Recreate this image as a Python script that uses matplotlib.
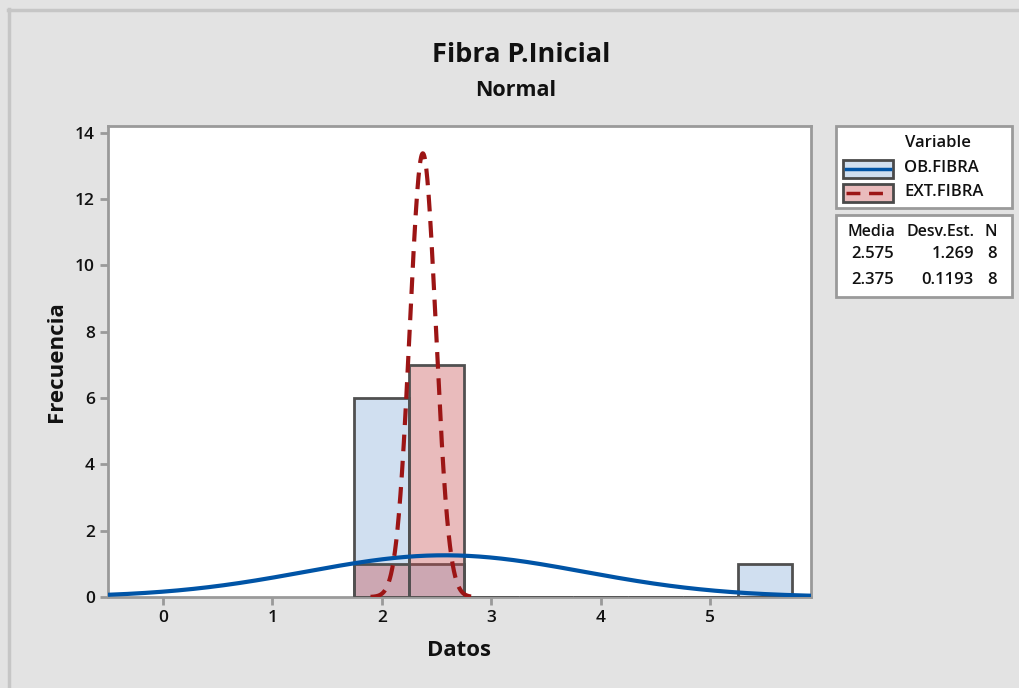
import numpy as np
import matplotlib
matplotlib.use("Agg")
import matplotlib.pyplot as plt
from matplotlib.patches import Rectangle
from matplotlib.lines import Line2D

plt.rcParams['font.family'] = ['Open Sans', 'DejaVu Sans']

# ---- data ----
bin_edges = [1.75, 2.25, 2.75, 3.25, 3.75, 4.25, 4.75, 5.25, 5.75]
ob_counts = [6, 1, 0, 0, 0, 0, 0, 1]
ext_counts = [1, 7, 0, 0, 0, 0, 0, 0]
series_names = ["OB.FIBRA", "EXT.FIBRA"]
means = [2.575, 2.375]
sds = [1.269, 0.1193]
ns = [8, 8]
mean_labels = ["2.575", "2.375"]
sd_labels = ["1.269", "0.1193"]
xticks = [0, 1, 2, 3, 4, 5]
yticks = [0, 2, 4, 6, 8, 10, 12, 14]

W, H = 1020, 688
BG = '#e3e3e3'
BLUE_FACE = '#d0dff0'
RED_FACE = (0.78, 0.30, 0.31, 0.38)
EDGE = '#505050'
BLUE_LINE = '#0054a6'
RED_LINE = '#9c1515'
TXT = '#111111'

fig = plt.figure(figsize=(W / 100, H / 100), dpi=100, facecolor=BG)

def fx(px):
    return px / W
def fy(py):
    return 1 - py / H

# outer frame (top and left edges)
fig.lines.append(Line2D([fx(8), fx(1020)], [fy(10), fy(10)], transform=fig.transFigure,
                        color='#c6c6c6', lw=2.5))
fig.lines.append(Line2D([fx(9), fx(9)], [fy(9), fy(688)], transform=fig.transFigure,
                        color='#c6c6c6', lw=2.5))

ax = fig.add_axes([108 / W, 1 - 597 / H, (811 - 108) / W, (597 - 126) / H])
ax.set_facecolor('white')

edges = np.array(bin_edges)
widths = np.diff(edges)
ax.bar(edges[:-1], ob_counts, width=widths, align='edge', color=BLUE_FACE,
       edgecolor=EDGE, linewidth=2, zorder=2)
ax.bar(edges[:-1], ext_counts, width=widths, align='edge', facecolor=RED_FACE,
       edgecolor=EDGE, linewidth=2, zorder=3)

binw = widths[0]
xs = np.linspace(-0.5, 5.92, 800)
def fit(m, s, n, x):
    return n * binw / (s * np.sqrt(2 * np.pi)) * np.exp(-0.5 * ((x - m) / s) ** 2)

ax.plot(xs, fit(means[0], sds[0], ns[0], xs), color=BLUE_LINE, lw=3, zorder=5,
        solid_capstyle='butt')
xr = np.linspace(means[1] - 4 * sds[1], means[1] + 4 * sds[1], 400)
ax.plot(xr, fit(means[1], sds[1], ns[1], xr), color=RED_LINE, lw=3, zorder=6,
        dashes=(4, 2.3))

ax.set_xlim(-0.5, 5.92)
ax.set_ylim(0, 14.2)
ax.set_xticks(xticks)
ax.set_yticks(yticks)
for sp in ax.spines.values():
    sp.set_color('#9a9a9a')
    sp.set_linewidth(2)
ax.tick_params(axis='both', colors='#9a9a9a', width=2, length=6,
               labelcolor=TXT, labelsize=12.5)
for lab in ax.get_xticklabels() + ax.get_yticklabels():
    lab.set_fontweight('semibold')

ax.set_xlabel('Datos', fontsize=16, fontweight='bold', labelpad=10, color=TXT)
ax.set_ylabel('Frecuencia', fontsize=16, fontweight='bold', labelpad=6, color=TXT)

fig.text(521 / W, 1 - 55 / H, 'Fibra P.Inicial', ha='center', va='center',
         fontsize=19.5, fontweight='bold', color=TXT)
fig.text(516 / W, 1 - 90 / H, 'Normal', ha='center', va='center',
         fontsize=15.5, fontweight='bold', color=TXT)

# legend box 1
fig.patches.append(Rectangle((fx(836), fy(208)), (1012 - 836) / W, (208 - 126) / H,
                             transform=fig.transFigure, facecolor='white',
                             edgecolor='#9a9a9a', lw=2))
fig.text(fx(938), fy(143), 'Variable', ha='center', va='center', fontsize=12,
         fontweight='semibold', color=TXT)
faces = [BLUE_FACE, RED_FACE]
lines = [(BLUE_LINE, '-'), (RED_LINE, (0, (4, 2.5)))]
for i, (py0, py1) in enumerate([(160, 178), (184, 202)]):
    fig.patches.append(Rectangle((fx(843), fy(py1)), (893 - 843) / W, (py1 - py0) / H,
                                 transform=fig.transFigure, facecolor=faces[i],
                                 edgecolor='#4a4a4a', lw=2))
    c, ls = lines[i]
    fig.lines.append(Line2D([fx(846), fx(890)], [fy((py0 + py1) / 2)] * 2,
                            transform=fig.transFigure, color=c, lw=2.5, linestyle=ls))
    fig.text(fx(904), fy((py0 + py1) / 2 - 1), series_names[i], ha='left', va='center',
             fontsize=12, fontweight='semibold', color=TXT)

# stats box
fig.patches.append(Rectangle((fx(836), fy(297)), (1012 - 836) / W, (297 - 215) / H,
                             transform=fig.transFigure, facecolor='white',
                             edgecolor='#9a9a9a', lw=2))
fig.text(fx(871), fy(232), 'Media', ha='center', va='center', fontsize=11.5,
         fontweight='semibold', color=TXT)
fig.text(fx(975), fy(232), 'Desv.Est.', ha='right', va='center', fontsize=11.5,
         fontweight='semibold', color=TXT)
fig.text(fx(997), fy(232), 'N', ha='right', va='center', fontsize=11.5,
         fontweight='semibold', color=TXT)
for i, py in enumerate([254, 280]):
    fig.text(fx(873), fy(py), mean_labels[i], ha='center', va='center', fontsize=12,
             fontweight='semibold', color=TXT)
    fig.text(fx(974), fy(py), sd_labels[i], ha='right', va='center', fontsize=12,
             fontweight='semibold', color=TXT)
    fig.text(fx(997), fy(py), str(ns[i]), ha='right', va='center', fontsize=12,
             fontweight='semibold', color=TXT)

fig.savefig('out.png', dpi=100, facecolor=BG)
